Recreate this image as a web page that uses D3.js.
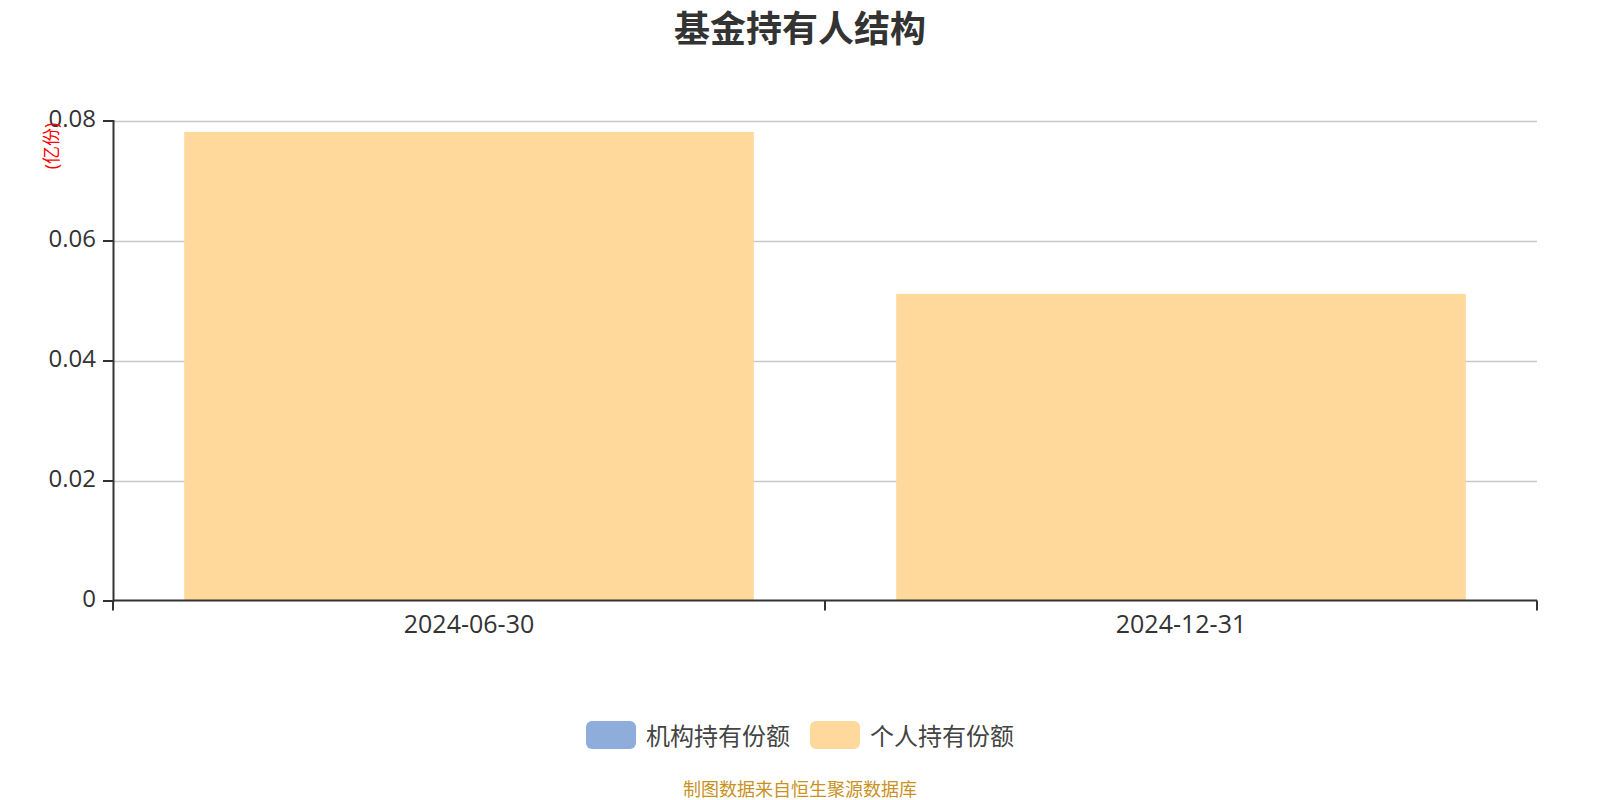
<!DOCTYPE html>
<html><head><meta charset="utf-8">
<script src="https://cdn.jsdelivr.net/npm/d3@7/dist/d3.min.js"></script>
<style>body{margin:0;background:#fff;}svg{display:block;font-family:"Open Sans","Noto Sans CJK SC","Noto Sans",sans-serif;}</style>
</head><body><svg id="c" width="1600" height="800"></svg>
<script>
const categories = ["2024-06-30", "2024-12-31"];
const institutional = [0, 0];
const individual = [0.0781, 0.0511];
const yTicks = [0, 0.02, 0.04, 0.06, 0.08];
const yTickLabels = ["0", "0.02", "0.04", "0.06", "0.08"];
const legendNames = ["机构持有份额", "个人持有份额"];
const colors = ["#8eaddb", "#fed99b"];
const title = "基金持有人结构";
const unitLabel = "(亿份)";
const sourceText = "制图数据来自恒生聚源数据库";

const FONT = "'Open Sans','Noto Sans CJK SC','Noto Sans',sans-serif";
const svg = d3.select("#c");
const m = {left: 113, right: 1537, top: 120.5, bottom: 600.5};
const x = d3.scaleBand().domain(categories).range([m.left, m.right]).paddingInner(0.2).paddingOuter(0.1);
const xBoundary = d3.scaleBand().domain(categories).range([m.left, m.right]);
const y = d3.scaleLinear().domain([0, 0.08]).range([m.bottom, m.top]);

// title
svg.append("text").attr("x", 800).attr("y", 42).attr("text-anchor", "middle")
  .attr("font-family", "'Noto Sans CJK SC',sans-serif")
  .attr("font-size", 36).attr("font-weight", "bold").attr("fill", "#333").text(title);

// grid
svg.append("g").selectAll("line").data(yTicks.filter(d => d > 0)).join("line")
  .attr("x1", m.left).attr("x2", m.right)
  .attr("y1", d => Math.round(y(d)) + 0.5).attr("y2", d => Math.round(y(d)) + 0.5)
  .attr("stroke", "#c8c8c8").attr("stroke-width", 1.5);

// bars (stacked: institutional then individual)
const stackData = categories.map((c, i) => ({c, inst: institutional[i], ind: individual[i]}));
svg.append("g").selectAll("rect.inst").data(stackData).join("rect")
  .attr("x", d => x(d.c)).attr("width", x.bandwidth())
  .attr("y", d => y(d.inst)).attr("height", d => y(0) - y(d.inst)).attr("fill", colors[0]);
svg.append("g").selectAll("rect.ind").data(stackData).join("rect")
  .attr("x", d => x(d.c)).attr("width", x.bandwidth())
  .attr("y", d => y(d.inst + d.ind)).attr("height", d => y(d.inst) - y(d.inst + d.ind)).attr("fill", colors[1]);

// y axis
const yAxis = d3.axisLeft(y).tickValues(yTicks).tickFormat((d, i) => yTickLabels[i]).tickSize(10).tickPadding(7);
const gy = svg.append("g").attr("transform", `translate(${m.left},0)`).call(yAxis).attr("font-family", FONT);
gy.select(".domain").attr("stroke", "#333").attr("stroke-width", 2);
gy.selectAll(".tick line").attr("stroke", "#333").attr("stroke-width", 2);
gy.selectAll(".tick text").attr("fill", "#333").attr("font-size", 24).attr("font-family", FONT).attr("dy", "0.25em");

// x axis
const xAxis = d3.axisBottom(x).tickSize(0).tickPadding(15);
const gx = svg.append("g").attr("transform", `translate(0,${m.bottom})`).call(xAxis).attr("font-family", FONT);
gx.select(".domain").attr("stroke", "#333").attr("stroke-width", 2).attr("d", `M${m.left},0H${m.right}`);
gx.selectAll(".tick text").attr("fill", "#333").attr("font-size", 25).attr("font-family", FONT);
const bounds = [m.left, ...categories.slice(1).map(c => xBoundary(c)), m.right];
gx.selectAll("line.bt").data(bounds).join("line").attr("class", "bt")
  .attr("x1", d => d).attr("x2", d => d).attr("y1", 0).attr("y2", 10)
  .attr("stroke", "#333").attr("stroke-width", 2);

// unit label
svg.append("text").attr("transform", "translate(51,146) rotate(-90)").attr("text-anchor", "middle")
  .attr("font-family", FONT)
  .attr("dominant-baseline", "central").attr("font-size", 18).attr("fill", "#f00").text(unitLabel);

// legend
const legendX = [586, 810];
const lg = svg.append("g").selectAll("g").data(legendNames).join("g")
  .attr("transform", (d, i) => `translate(${legendX[i]},721)`);
lg.append("rect").attr("width", 50).attr("height", 28).attr("rx", 6).attr("fill", (d, i) => colors[i]);
lg.append("text").attr("x", 60).attr("y", 14).attr("dominant-baseline", "central")
  .attr("font-size", 24).attr("fill", "#444").text(d => d);

// source
svg.append("text").attr("x", 800).attr("y", 789).attr("text-anchor", "middle").attr("dominant-baseline", "central")
  .attr("font-size", 18).attr("fill", "#c8921e").text(sourceText);
</script></body></html>
